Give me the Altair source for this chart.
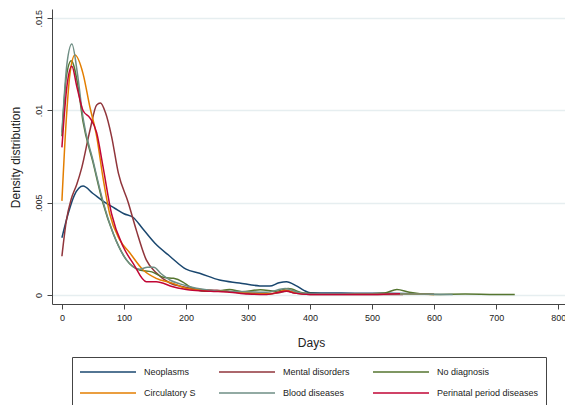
import altair as alt
import pandas as pd

# Kernel density estimates of episode length (days) by diagnosis group
series_names = [
    "Neoplasms", "Mental disorders", "No diagnosis",
    "Circulatory S", "Blood diseases", "Perinatal period diseases",
]
series_colors = ["#1a476f", "#90353b", "#55752f", "#e37e00", "#6e8e84", "#c10534"]

neoplasms_days = [0, 10, 20, 34, 50, 70, 85, 100, 115, 130, 150, 174, 200, 222, 254,
                  286, 319, 335, 350, 362, 378, 390, 400, 450, 500, 550, 600]
neoplasms_dens = [.0031, .0044, .0054, .0059, .0055, .0050, .0047, .0044, .0042, .0036,
                  .0028, .0021, .0014, .00118, .00081, .00065, .00049, .00048, .00066,
                  .00072, .00049, .00025, .00012, .00010, .00009, .00008, .00004]

mental_days = [0, 7, 15, 24, 32, 45, 56, 62, 70, 80, 91, 107, 120, 136, 152, 174, 195,
               220, 250, 280, 300, 330, 350, 362, 375, 400, 450, 500, 550]
mental_dens = [.0021, .0040, .0052, .0060, .0069, .0089, .0103, .0104, .0099, .0086,
               .0066, .0050, .0035, .0019, .0012, .00065, .00045, .00030, .00025,
               .00015, .00008, .00005, .00012, .00020, .00010, .00003, .00003, .00003,
               .00003]

nodiag_days = [0, 7, 15, 25, 34, 50, 66, 83, 104, 125, 145, 165, 180, 195, 206, 230,
               250, 270, 290, 320, 345, 365, 390, 420, 480, 520, 540, 560, 600, 650,
               700, 730]
nodiag_dens = [.0086, .0118, .0127, .0115, .0094, .0072, .0050, .0033, .0019, .00135,
               .00125, .00095, .00090, .00070, .00045, .00020, .00020, .00030, .00018,
               .00028, .00020, .00035, .00010, .00006, .00005, .00010, .00030, .00015,
               .00003, .00005, .00003, .00003]

circ_days = [0, 7, 13, 21, 34, 45, 56, 66, 77, 93, 109, 131, 152, 179, 200, 230, 260,
             300, 340, 360, 380, 400, 450, 500, 550, 600]
circ_dens = [.0051, .0095, .0120, .0130, .0120, .0102, .0086, .0064, .0044, .0030,
             .0023, .00135, .0009, .00063, .00036, .00025, .00020, .00012, .00008,
             .00025, .00010, .00005, .00005, .00005, .00005, .00003]

blood_days = [0, 8, 16, 25, 34, 50, 66, 83, 104, 125, 138, 148, 160, 174, 190, 206,
              230, 260, 300, 330, 360, 380, 400, 450, 500, 550, 600, 630]
blood_dens = [.0088, .0125, .0136, .0120, .0096, .0073, .0051, .0033, .0019, .00140,
              .00150, .00150, .00115, .00081, .00060, .00045, .00030, .00020, .00018,
              .00015, .00035, .00015, .00006, .00006, .00005, .00005, .00004, .00003]

perinatal_days = [0, 8, 16, 24, 34, 45, 56, 66, 80, 99, 115, 136, 152, 179, 206, 240,
                  270, 300, 330, 350, 362, 375, 400, 450, 500, 545]
perinatal_dens = [.0080, .0113, .0124, .0113, .0100, .0096, .0088, .0070, .0044, .0026,
                  .0017, .00072, .00072, .00045, .00027, .00020, .00015, .00005,
                  .00003, .00015, .00022, .00010, .00002, .00002, .00002, .00006]

x_ticks = [0, 100, 200, 300, 400, 500, 600, 700, 800]
y_ticks = [0, 0.005, 0.01, 0.015]

all_days = [neoplasms_days, mental_days, nodiag_days, circ_days, blood_days, perinatal_days]
all_dens = [neoplasms_dens, mental_dens, nodiag_dens, circ_dens, blood_dens, perinatal_dens]

rows = []
for order, (name, ds, vs) in enumerate(zip(series_names, all_days, all_dens)):
    for d, v in zip(ds, vs):
        rows.append({"group": name, "days": d, "density": v, "order": order})
df = pd.DataFrame(rows)

font = "Liberation Sans"

# long horizontal key line: path spans 4x the symbol box width
key_line = "M-4,0H4"

chart = (
    alt.Chart(df)
    .mark_line(interpolate="monotone", strokeWidth=1.5)
    .encode(
        x=alt.X(
            "days:Q",
            scale=alt.Scale(domain=[-16, 811], nice=False, zero=False),
            axis=alt.Axis(
                values=x_ticks, title="Days", grid=False,
                labelFont=font, labelFontSize=9, labelColor="#222",
                labelPadding=4, tickSize=5, tickColor="#444", domainColor="#444",
                titleFont=font, titleFontSize=12, titleFontWeight="normal",
                titleColor="#222", titleX=259, titleY=38,
                titleAlign="center", titleBaseline="middle",
            ),
        ),
        y=alt.Y(
            "density:Q",
            scale=alt.Scale(domain=[-0.00049, 0.0155], nice=False, zero=False),
            axis=alt.Axis(
                values=y_ticks,
                labelExpr="datum.value == 0 ? '0' : substring(format(datum.value, '.3~f'), 1)",
                labelAngle=270, labelAlign="center", labelBaseline="bottom",
                labelFont=font, labelFontSize=9, labelColor="#222", labelPadding=4,
                tickSize=5, tickColor="#444", domainColor="#444",
                grid=True, gridColor="#e6eef0", gridWidth=1.5,
                title="Density distribution", titleFont=font, titleFontSize=12,
                titleFontWeight="normal", titleColor="#222", titleAngle=270,
                titleX=-37, titleY=148, titleAlign="center", titleBaseline="middle",
            ),
        ),
        color=alt.Color(
            "group:N",
            scale=alt.Scale(domain=series_names, range=series_colors),
            legend=alt.Legend(
                title=None, orient="none", legendX=20, legendY=348,
                direction="horizontal", columns=3, columnPadding=20, rowPadding=8,
                symbolType=key_line, symbolSize=196, symbolStrokeWidth=1.5,
                symbolOffset=21,
                labelFont=font, labelFontSize=9, labelColor="#222", labelOffset=28,
                strokeColor="#444", padding=7, labelLimit=200,
            ),
        ),
        order=alt.Order("order:Q"),
    )
    .properties(
        width=513, height=295,
        autosize=alt.AutoSizeParams(type="none"),
        padding={"left": 52, "top": 9, "right": 0, "bottom": 101},
        background="white",
    )
    .configure_view(strokeWidth=0)
)

chart.save("out.html", embed_options={"renderer": "svg", "actions": False})
